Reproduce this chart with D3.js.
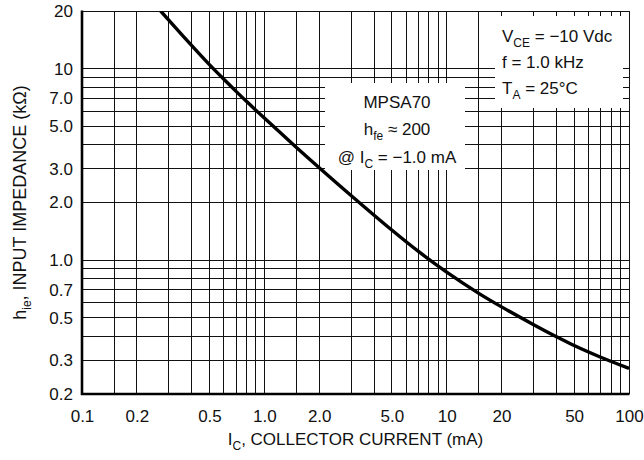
<!DOCTYPE html>
<html lang="en">
<head>
    <meta charset="UTF-8">
    <title>hie vs IC - MPSA70</title>
    <script src="https://d3js.org/d3.v7.min.js"></script>
    <style>
        body { margin: 0; background: #fff; }
        svg { display: block; font-family: 'Liberation Sans', Arial, sans-serif; }
        .grid line { stroke: #111; stroke-width: 1; shape-rendering: crispEdges; }
        .tick text { font-size: 17px; fill: #111; }
        .lbl { font-size: 17px; fill: #111; }
    </style>
</head>
<body>
    <svg id="chart" width="644" height="460"></svg>
    <script>
        // collector current (mA) and input impedance (kOhm)
        const icValues  = [0.27, 0.3, 0.4, 0.5, 0.6, 0.7, 0.8, 1.0, 1.5, 2.0, 3.0, 5.0, 7.0, 10, 15, 20, 30, 40, 50, 70, 100];
        const hieValues = [20, 17.87, 13.2, 10.5, 8.80, 7.61, 6.73, 5.52, 3.88, 3.04, 2.17, 1.436, 1.11, 0.866, 0.671, 0.570, 0.460, 0.398, 0.358, 0.311, 0.272];

        const xTicks = [0.1, 0.2, 0.5, 1, 2, 5, 10, 20, 50, 100];
        const xTickLabels = ["0.1", "0.2", "0.5", "1.0", "2.0", "5.0", "10", "20", "50", "100"];
        const yTicks = [0.2, 0.3, 0.5, 0.7, 1, 2, 3, 5, 7, 10, 20];
        const yTickLabels = ["0.2", "0.3", "0.5", "0.7", "1.0", "2.0", "3.0", "5.0", "7.0", "10", "20"];

        const xGrid = [0.15, 0.2, 0.3, 0.4, 0.5, 0.6, 0.7, 0.8, 0.9, 1, 1.5, 2, 3, 4, 5, 6, 7, 8, 9, 10, 15, 20, 30, 40, 50, 60, 70, 80, 90, 100];
        const yGrid = [0.3, 0.4, 0.5, 0.6, 0.7, 0.8, 0.9, 1, 2, 3, 4, 5, 6, 7, 8, 9, 10, 20];

        const svg = d3.select("#chart");
        const mLeft = 82, mRight = 629, mTop = 11, mBottom = 394;

        const x = d3.scaleLog().domain([0.1, 100]).range([mLeft, mRight]);
        const y = d3.scaleLog().domain([0.2, 20]).range([mBottom, mTop]);

        // grid
        const grid = svg.append("g").attr("class", "grid");
        grid.selectAll(".v").data(xGrid).join("line")
            .attr("x1", d => x(d)).attr("x2", d => x(d))
            .attr("y1", mTop).attr("y2", mBottom);
        grid.selectAll(".h").data(yGrid).join("line")
            .attr("x1", mLeft).attr("x2", mRight)
            .attr("y1", d => y(d)).attr("y2", d => y(d));

        // white boxes behind the annotations
        svg.append("rect").attr("x", 495).attr("y", 16).attr("width", 128).attr("height", 92).attr("fill", "#fff");
        svg.append("rect").attr("x", 325).attr("y", 83).attr("width", 140).attr("height", 87).attr("fill", "#fff");

        // curve
        svg.append("clipPath").attr("id", "plot-clip")
            .append("rect").attr("x", mLeft).attr("y", mTop).attr("width", mRight - mLeft).attr("height", mBottom - mTop);
        const line = d3.line()
            .x((d, i) => x(icValues[i]))
            .y(d => y(d))
            .curve(d3.curveCatmullRom.alpha(0.5));
        svg.append("path")
            .datum(hieValues)
            .attr("d", line)
            .attr("fill", "none")
            .attr("stroke", "#000")
            .attr("stroke-width", 3.4)
            .attr("stroke-linecap", "butt")
            .attr("clip-path", "url(#plot-clip)");

        // axes lines (left and bottom heavy)
        svg.append("line").attr("x1", mLeft).attr("x2", mLeft).attr("y1", mTop - 0.5).attr("y2", mBottom + 1)
            .attr("stroke", "#000").attr("stroke-width", 2.6);
        svg.append("line").attr("x1", mLeft - 1).attr("x2", mRight + 0.5).attr("y1", mBottom).attr("y2", mBottom)
            .attr("stroke", "#000").attr("stroke-width", 2.6);

        // tick labels
        const xAxis = d3.axisBottom(x).tickValues(xTicks)
            .tickFormat((d, i) => xTickLabels[i]).tickSize(0).tickPadding(16);
        svg.append("g").attr("transform", `translate(0,${mBottom})`).call(xAxis)
            .call(g => g.select(".domain").remove());

        const yAxis = d3.axisLeft(y).tickValues(yTicks)
            .tickFormat((d, i) => yTickLabels[i]).tickSize(0).tickPadding(9);
        svg.append("g").attr("transform", `translate(${mLeft},0)`).call(yAxis)
            .call(g => g.select(".domain").remove());

        svg.selectAll(".tick text").attr("font-family", null);

        // text with subscripts: parts = [[text, isSub], ...]
        function richText(xPos, yPos, parts, anchor, size) {
            const t = svg.append("text").attr("class", "lbl")
                .attr("x", xPos).attr("y", yPos)
                .attr("text-anchor", anchor)
                .style("font-size", (size || 17) + "px");
            let shifted = false;
            parts.forEach(([s, sub]) => {
                const ts = t.append("tspan").text(s);
                if (sub && !shifted) { ts.attr("dy", 5).style("font-size", "12px"); shifted = true; }
                else if (!sub && shifted) { ts.attr("dy", -5); shifted = false; }
            });
            return t;
        }

        richText(502, 42, [["V", 0], ["CE", 1], [" = \u221210 Vdc", 0]], "start");
        richText(502, 68, [["f = 1.0 kHz", 0]], "start");
        richText(502, 94, [["T", 0], ["A", 1], [" = 25\u00B0C", 0]], "start");

        richText(397, 108, [["MPSA70", 0]], "middle");
        richText(397, 135, [["h", 0], ["fe", 1], [" \u2248 200", 0]], "middle");
        richText(397, 163, [["@ I", 0], ["C", 1], [" = \u22121.0 mA", 0]], "middle");

        // axis titles
        richText((mLeft + mRight) / 2, 445, [["I", 0], ["C", 1], [", COLLECTOR CURRENT (mA)", 0]], "middle");
        richText(0, 0, [["h", 0], ["ie", 1], [", INPUT IMPEDANCE (k\u03A9)", 0]], "middle", 18)
            .attr("transform", `translate(26,${(mTop + mBottom) / 2}) rotate(-90)`);
    </script>
</body>
</html>
